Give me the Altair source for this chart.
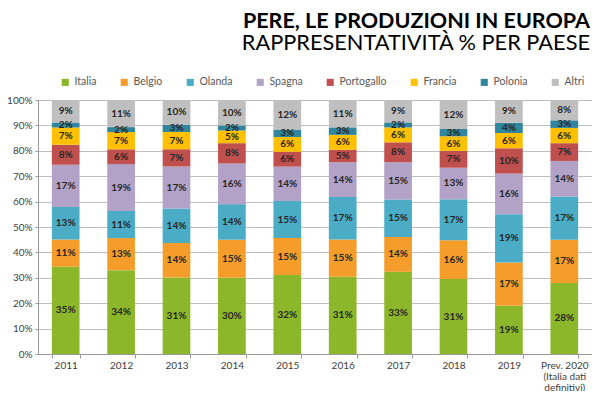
import altair as alt
import pandas as pd

years = ["2011", "2012", "2013", "2014", "2015", "2016", "2017", "2018", "2019", "Prev. 2020"]
countries = ["Italia", "Belgio", "Olanda", "Spagna", "Portogallo", "Francia", "Polonia", "Altri"]
colors = ["#8DB72A", "#F59D2A", "#4BACC6", "#B3A2C7", "#C0504D", "#FFC000", "#31859C", "#BFBFBF"]

italia     = [35, 34, 31, 30, 32, 31, 33, 31, 19, 28]
belgio     = [11, 13, 14, 15, 15, 15, 14, 16, 17, 17]
olanda     = [13, 11, 14, 14, 15, 17, 15, 17, 19, 17]
spagna     = [17, 19, 17, 16, 14, 14, 15, 13, 16, 14]
portogallo = [8, 6, 7, 8, 6, 5, 8, 7, 10, 7]
francia    = [7, 7, 7, 5, 6, 6, 6, 6, 6, 6]
polonia    = [2, 2, 3, 2, 3, 3, 2, 3, 4, 3]
altri      = [9, 11, 10, 10, 12, 11, 9, 12, 9, 8]
y_ticks    = [0.0, 0.1, 0.2, 0.3, 0.4, 0.5, 0.6, 0.7, 0.8, 0.9, 1.0]

series = [italia, belgio, olanda, spagna, portogallo, francia, polonia, altri]

rows = []
for ci, (c, vals) in enumerate(zip(countries, series)):
    for y, v in zip(years, vals):
        rows.append({"year": y, "country": c, "idx": ci, "value": v, "label": f"{v}%"})
df = pd.DataFrame(rows)

FONT = "Lato"

base = alt.Chart(df).transform_stack(
    stack="value", groupby=["year"], as_=["y0", "y1"],
    sort=[alt.SortField("idx", order="ascending")], offset="normalize"
).transform_calculate(mid="(datum.y0 + datum.y1) / 2")

xaxis = alt.Axis(labelExpr="datum.value == 'Prev. 2020' ? ['Prev. 2020', '(Italia dati', 'definitivi)'] : datum.value",
                 labelAngle=0, labelFont=FONT, labelFontSize=10, labelColor="#404040",
                 labelPadding=2, tickBand="extent", tickSize=4, tickColor="#999999",
                 domainColor="#999999", labelLineHeight=11)
xscale = alt.Scale(paddingInner=0.5, paddingOuter=0.25)

yaxis = alt.Axis(format=".0%", values=y_ticks, labelFont=FONT,
                 labelFontSize=10, labelColor="#404040", grid=True, gridColor="#BFBFBF",
                 tickColor="#999999", tickSize=3, domainColor="#999999", labelPadding=3,
                 labelOverlap=False)
yscale = alt.Scale(domain=[0, 1])

bars = base.mark_bar().encode(
    x=alt.X("year:N", sort=years, title=None, scale=xscale, axis=xaxis),
    y=alt.Y("y0:Q", title=None, scale=yscale, axis=yaxis),
    y2="y1:Q",
    color=alt.Color("country:N", scale=alt.Scale(domain=countries, range=colors),
                    legend=alt.Legend(title=None, orient="none", direction="horizontal",
                                      legendX=22, legendY=-23, symbolType="square", symbolSize=50,
                                      symbolStrokeWidth=0, labelFont=FONT, labelFontSize=10.5,
                                      labelColor="#595959", columnPadding=22, labelOffset=4)),
)

labels = base.mark_text(font=FONT, fontSize=10, fontWeight="bold", color="#262626").encode(
    x=alt.X("year:N", sort=years, title=None, scale=xscale, axis=xaxis),
    y=alt.Y("mid:Q", title=None, scale=yscale, axis=yaxis),
    text="label:N",
)

chart = alt.layer(bars, labels).properties(
    width=554, height=254,
    autosize=alt.AutoSizeParams(type="none"),
    padding={"left": 30, "top": 92, "right": 0, "bottom": 37},
    title=alt.TitleParams(
        text="PERE, LE PRODUZIONI IN EUROPA",
        subtitle="RAPPRESENTATIVITÀ % PER PAESE",
        anchor="end", frame="group", font=FONT, fontSize=21.5, fontWeight="bold", color="#000000",
        subtitleFont=FONT, subtitleFontSize=21.75, subtitleColor="#000000",
        subtitleFontWeight="normal", subtitlePadding=1, offset=22, dx=-2,
    ),
).configure_view(stroke=None)

chart.save("out.html", embed_options={"renderer": "svg", "actions": False})
